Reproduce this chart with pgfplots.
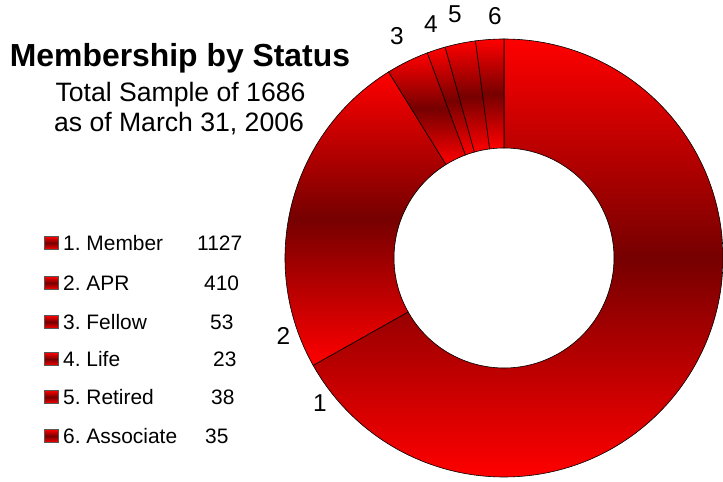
\documentclass[border=0pt]{standalone}
\usepackage{pgfplots}
\pgfplotsset{compat=1.18}
\usepackage{pgfplotstable}
\usepackage{fontspec}
\setmainfont{Liberation Sans}
\frenchspacing
\definecolor{slicetop}{RGB}{255,0,0}
\definecolor{slicemid}{RGB}{118,0,0}
\pgfdeclareplotmark{nothing}{}

\pgfplotstableread{
id value ly
1 1127 239
2 410 199
3 53 160
4 23 123
5 38 85
6 35 46
}\members

\gdef\cumval{0}

\begin{document}
\begin{tikzpicture}
\begin{axis}[
  scale only axis, width=723bp, height=482bp,
  xmin=0, xmax=723, ymin=0, ymax=482,
  hide axis, clip=false,
]
% donut slices
\addplot[only marks, scatter, mark=nothing,
  point meta=0,
  visualization depends on={\thisrow{value} \as \sliceval},
  scatter/@pre marker code/.code={%
    \begingroup
      \pgfkeys{/pgf/fpu=true,/pgf/fpu/output format=fixed}%
      \pgfmathparse{90-\cumval/1686*360}\xdef\angA{\pgfmathresult}%
      \pgfmathparse{\cumval+\sliceval}\xdef\cumval{\pgfmathresult}%
      \pgfmathparse{90-\cumval/1686*360}\xdef\angB{\pgfmathresult}%
    \endgroup
    \shadedraw[line width=0.6bp, draw=black, top color=slicetop, bottom color=slicetop, middle color=slicemid]
      (\angA:219bp) arc[start angle=\angA, end angle=\angB, radius=219bp]
      -- (\angB:110bp) arc[start angle=\angB, end angle=\angA, radius=110bp] -- cycle;
  },
  scatter/@post marker code/.code={},
] table[x expr=504, y expr=224] {\members};
% legend squares
\addplot[only marks, scatter, mark=nothing,
  point meta=0,
  scatter/@pre marker code/.code={%
    \shadedraw[draw=gray!70!black, line width=0.5bp, top color=slicetop, bottom color=slicetop, middle color=slicemid]
      (-7bp,-6.5bp) rectangle (7bp,6.5bp);
  },
  scatter/@post marker code/.code={},
] table[x expr=51, y=ly] {\members};

% title
\node[anchor=base, inner sep=0pt, font=\fontsize{32}{36}\selectfont\bfseries] at (axis cs:180,415) {Membership by Status};
\node[anchor=base, inner sep=0pt, font=\fontsize{26.7}{30}\selectfont] at (axis cs:180.5,380) {Total Sample of 1686};
\node[anchor=base, inner sep=0pt, font=\fontsize{26.7}{30}\selectfont] at (axis cs:179,350.5) {as of March 31, 2006};

% slice labels
\begin{scope}[every node/.style={inner sep=0pt, anchor=center, font=\fontsize{24.5}{28}\selectfont}]
\node at (axis cs:320,78.5) {1};
\node at (axis cs:283.5,146) {2};
\node at (axis cs:397,446) {3};
\node at (axis cs:431,458) {4};
\node at (axis cs:455,468) {5};
\node at (axis cs:495,466) {6};
\end{scope}

% legend text
\begin{scope}[every node/.style={inner sep=0pt, anchor=base west, font=\fontsize{21}{24}\selectfont}]
\node at (axis cs:63,231.5) {1. Member};
\node at (axis cs:197,231.5) {1127};
\node at (axis cs:63,191.5) {2. APR};
\node at (axis cs:204,191.5) {410};
\node at (axis cs:63,152.5) {3. Fellow};
\node at (axis cs:210,152.5) {53};
\node at (axis cs:63,115.5) {4. Life};
\node at (axis cs:213,115.5) {23};
\node at (axis cs:63,77.5) {5. Retired};
\node at (axis cs:211,77.5) {38};
\node at (axis cs:63,38.5) {6. Associate};
\node at (axis cs:205,38.5) {35};
\end{scope}
\end{axis}
\pgfresetboundingbox
\path[use as bounding box] (current axis.south west) rectangle (current axis.north east);
\end{tikzpicture}
\end{document}
